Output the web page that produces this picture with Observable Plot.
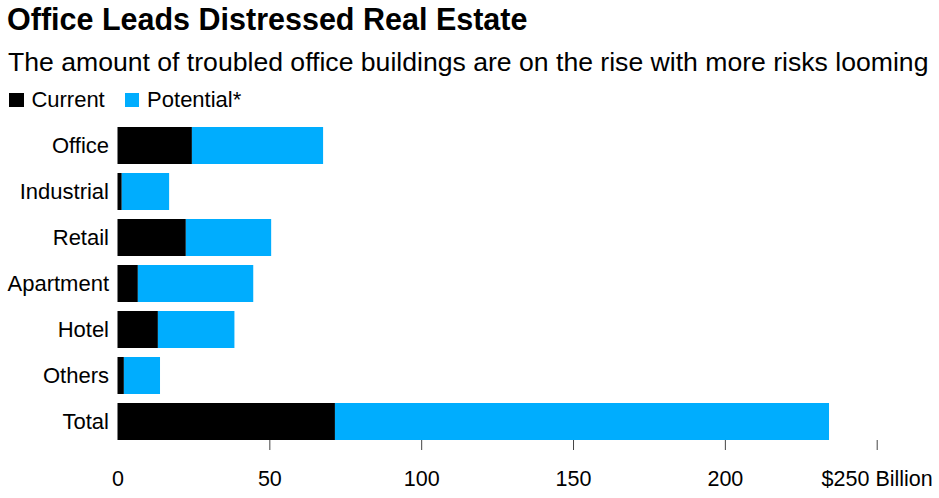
<!DOCTYPE html>
<html>
<head>
<meta charset="utf-8">
<script src="https://cdn.jsdelivr.net/npm/d3@7"></script>
<script src="https://cdn.jsdelivr.net/npm/@observablehq/plot@0.6"></script>
<style>
  html, body { margin: 0; padding: 0; background: #fff; }
  body { width: 939px; height: 498px; position: relative; overflow: hidden; font-family: "Liberation Sans", Arial, sans-serif; color: #000; }
  #title { position: absolute; left: 7px; top: 2px; font-size: 30.5px; line-height: 34px; font-weight: bold; white-space: nowrap; }
  #subtitle { position: absolute; left: 8px; top: 47px; font-size: 26.6px; line-height: 30px; white-space: nowrap; }
  #legend { position: absolute; left: 9px; top: 88px; font-size: 22px; line-height: 24px; white-space: nowrap; display: flex; }
  .item { display: flex; align-items: center; margin-right: 20px; }
  .sw { width: 14.7px; height: 14.7px; margin-right: 7.7px; display: inline-block; }
  #chart { position: absolute; left: 0; top: 115px; }
</style>
</head>
<body>
<div id="title">Office Leads Distressed Real Estate</div>
<div id="subtitle">The amount of troubled office buildings are on the rise with more risks looming</div>
<div id="legend"></div>
<div id="chart"></div>
<script>
const categories = ["Office", "Industrial", "Retail", "Apartment", "Hotel", "Others", "Total"];
const current = [24.5, 1.4, 22.5, 6.7, 13.3, 2.1, 71.6];
const potential = [43.2, 15.6, 28.1, 38.0, 25.2, 11.9, 162.7];
const seriesNames = ["Current", "Potential*"];
const seriesColors = ["#000000", "#00adfe"];
const xTickValues = [0, 50, 100, 150, 200, 250];
const xTickLabels = ["0", "50", "100", "150", "200", "$250 Billion"];

const data = categories.flatMap((c, i) => [
  {category: c, series: seriesNames[0], value: current[i]},
  {category: c, series: seriesNames[1], value: potential[i]}
]);

const legend = document.getElementById("legend");
seriesNames.forEach((s, i) => {
  const item = document.createElement("div");
  item.className = "item";
  const sw = document.createElement("span");
  sw.className = "sw";
  sw.style.background = seriesColors[i];
  item.appendChild(sw);
  item.appendChild(document.createTextNode(s));
  legend.appendChild(item);
});

const chart = Plot.plot({
  width: 939,
  height: 383,
  marginLeft: 117.5,
  marginRight: 62.3,
  marginTop: 11,
  marginBottom: 58,
  style: {fontFamily: '"Liberation Sans", Arial, sans-serif', color: "#000", background: "#fff"},
  x: {domain: [0, 250]},
  y: {domain: categories, paddingInner: 0.206, paddingOuter: 0},
  color: {domain: seriesNames, range: seriesColors},
  marks: [
    Plot.barX(data, {x: "value", y: "category", fill: "series"}),
    Plot.axisY({tickSize: 0, tickPadding: 9, fontSize: 22, label: null}),
    Plot.axisX({ticks: xTickValues, tickSize: 0, tickPadding: 30, fontSize: 21.5, label: null,
      tickFormat: d => xTickLabels[xTickValues.indexOf(d)]}),
    Plot.axisX({ticks: xTickValues.slice(1), tickSize: 10, stroke: "#444", label: null, tickFormat: () => ""})
  ]
});
document.getElementById("chart").appendChild(chart);
</script>
</body>
</html>
